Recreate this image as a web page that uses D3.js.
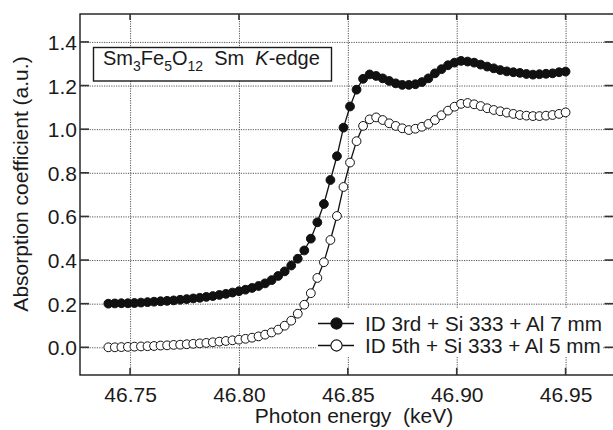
<!DOCTYPE html>
<html>
<head>
<meta charset="utf-8">
<script src="https://cdn.jsdelivr.net/npm/d3@7"></script>
<style>
  html, body { margin: 0; padding: 0; background: #fff; }
  svg { display: block; }
  text { font-family: "Liberation Sans", Arial, Helvetica, sans-serif; fill: #1a1a1a; }
</style>
</head>
<body>
<svg id="chart" width="613" height="430"></svg>
<script>
// ---- data ----
const energy = [
  46.740, 46.743, 46.746, 46.749, 46.752, 46.755, 46.758, 46.761, 46.764, 46.767,
  46.770, 46.773, 46.776, 46.779, 46.782, 46.785, 46.788, 46.791, 46.794, 46.797,
  46.800, 46.803, 46.806, 46.809, 46.812, 46.815, 46.818, 46.821, 46.824, 46.827,
  46.830, 46.833, 46.836, 46.839, 46.842, 46.845, 46.848, 46.851, 46.854, 46.857,
  46.860, 46.863, 46.866, 46.869, 46.872, 46.875, 46.878, 46.881, 46.884, 46.887,
  46.890, 46.893, 46.896, 46.899, 46.902, 46.905, 46.908, 46.911, 46.914, 46.917,
  46.920, 46.923, 46.926, 46.929, 46.932, 46.935, 46.938, 46.941, 46.944, 46.947,
  46.950
];
const seriesId3rd = [
  0.200, 0.201, 0.202, 0.202, 0.203, 0.205, 0.207, 0.209, 0.211, 0.213,
  0.215, 0.218, 0.221, 0.224, 0.227, 0.231, 0.235, 0.240, 0.245, 0.251,
  0.257, 0.264, 0.272, 0.281, 0.293, 0.308, 0.327, 0.348, 0.375, 0.406,
  0.444, 0.498, 0.573, 0.657, 0.767, 0.876, 1.007, 1.104, 1.181, 1.231,
  1.251, 1.244, 1.233, 1.221, 1.210, 1.203, 1.203, 1.206, 1.216, 1.233,
  1.256, 1.275, 1.293, 1.305, 1.313, 1.310, 1.305, 1.296, 1.287, 1.279,
  1.271, 1.265, 1.261, 1.258, 1.253, 1.250, 1.252, 1.254, 1.256, 1.261,
  1.264
];
const seriesId5th = [
  0.000, 0.000, 0.001, 0.002, 0.003, 0.004, 0.005, 0.006, 0.008, 0.009,
  0.011, 0.012, 0.014, 0.016, 0.018, 0.020, 0.023, 0.026, 0.029, 0.032,
  0.035, 0.039, 0.044, 0.050, 0.058, 0.068, 0.081, 0.099, 0.122, 0.154,
  0.195, 0.248, 0.318, 0.390, 0.492, 0.602, 0.735, 0.847, 0.945, 1.015,
  1.045, 1.054, 1.042, 1.027, 1.015, 1.004, 0.996, 1.002, 1.011, 1.024,
  1.042, 1.064, 1.085, 1.103, 1.116, 1.120, 1.114, 1.106, 1.096, 1.088,
  1.082, 1.076, 1.070, 1.065, 1.062, 1.060, 1.060, 1.062, 1.065, 1.070,
  1.077
];
const seriesNames = ["ID 3rd + Si 333 + Al 7 mm", "ID 5th + Si 333 + Al 5 mm"];
const xTicks = [46.75, 46.80, 46.85, 46.90, 46.95];
const yTicks = [0.0, 0.2, 0.4, 0.6, 0.8, 1.0, 1.2, 1.4];
const xTitle = "Photon energy  (keV)";
const yTitle = "Absorption coefficient (a.u.)";

// ---- layout ----
const L = 80, R = 613.5, T = 14, B = 375;
const svg = d3.select("#chart");
const x = d3.scaleLinear().domain([46.727, 46.972]).range([L, R]);
const y = d3.scaleLinear().domain([-0.127, 1.528]).range([B, T]);

// grid
const grid = svg.append("g");
grid.append("g").attr("transform", `translate(0,${B})`)
  .call(d3.axisBottom(x).tickValues(xTicks).tickSize(-(B - T)).tickFormat(""))
  .call(g => g.select(".domain").remove());
grid.append("g").attr("transform", `translate(${L},0)`)
  .call(d3.axisLeft(y).tickValues(yTicks).tickSize(-(R - L)).tickFormat(""))
  .call(g => g.select(".domain").remove());
grid.selectAll("line").attr("stroke", "#555").attr("stroke-width", 1).attr("stroke-dasharray", "1.2,1.2");

// inset title box
const box = svg.append("g");
box.append("rect").attr("x", 93.5).attr("y", 47.5).attr("width", 238).attr("height", 33.5)
  .attr("fill", "#fff").attr("stroke", "#1a1a1a").attr("stroke-width", 1.4);
const bt = box.append("text").attr("x", 103).attr("y", 65).style("font-size", "20px").style("white-space", "pre");
bt.append("tspan").text("Sm");
bt.append("tspan").attr("dy", 6).style("font-size", "14px").text("3");
bt.append("tspan").attr("dy", -6).text("Fe");
bt.append("tspan").attr("dy", 6).style("font-size", "14px").text("5");
bt.append("tspan").attr("dy", -6).text("O");
bt.append("tspan").attr("dy", 6).style("font-size", "14px").text("12");
bt.append("tspan").attr("dy", -6).text("  Sm  ");
bt.append("tspan").style("font-style", "italic").text("K");
bt.append("tspan").text("-edge");

// legend background
svg.append("rect").attr("x", 316).attr("y", 309).attr("width", 286).attr("height", 48).attr("fill", "#fff");

// series
const series = [
  { vals: seriesId3rd, fill: "#111" },
  { vals: seriesId5th, fill: "#fff" }
];
const line = d3.line().x((d, i) => x(energy[i])).y(d => y(d));
series.forEach(s => {
  svg.append("path").datum(s.vals).attr("d", line)
    .attr("fill", "none").attr("stroke", "#111").attr("stroke-width", 1.3);
});
series.forEach(s => {
  svg.append("g").selectAll("circle").data(s.vals).join("circle")
    .attr("cx", (d, i) => x(energy[i])).attr("cy", d => y(d)).attr("r", 4.4)
    .attr("fill", s.fill).attr("stroke", "#111").attr("stroke-width", 1);
});

// legend
const lg = svg.append("g");
seriesNames.forEach((name, i) => {
  const cy = 323.5 + i * 22;
  lg.append("line").attr("x1", 318).attr("x2", 354).attr("y1", cy).attr("y2", cy)
    .attr("stroke", "#111").attr("stroke-width", 1.3);
  lg.append("circle").attr("cx", 336.5).attr("cy", cy).attr("r", 5.6)
    .attr("fill", series[i].fill).attr("stroke", "#111").attr("stroke-width", 1.1);
  lg.append("text").attr("x", 365).attr("y", cy + 7.3).style("font-size", "20.7px").text(name);
});

// frame (right side sits just beyond the visible area)
svg.append("rect").attr("x", L).attr("y", T).attr("width", R + 1.5 - L).attr("height", B - T)
  .attr("fill", "none").attr("stroke", "#1a1a1a").attr("stroke-width", 1.4);

// inward ticks
const tk = svg.append("g").attr("stroke", "#333").attr("stroke-width", 1.6);
tk.selectAll(".tb").data(xTicks).join("line")
  .attr("x1", d => x(d)).attr("x2", d => x(d)).attr("y1", B).attr("y2", B - 7);
tk.selectAll(".tt").data(xTicks).join("line").attr("class", "tt")
  .attr("x1", d => x(d)).attr("x2", d => x(d)).attr("y1", T).attr("y2", T + 6);
tk.selectAll(".tl").data(yTicks).join("line").attr("class", "tl")
  .attr("x1", L).attr("x2", L + 9).attr("y1", d => y(d)).attr("y2", d => y(d));
tk.selectAll(".tr").data(yTicks).join("line").attr("class", "tr")
  .attr("x1", R - 9).attr("x2", R).attr("y1", d => y(d)).attr("y2", d => y(d));

// tick labels via axes
svg.append("g").attr("transform", `translate(0,${B})`)
  .call(d3.axisBottom(x).tickValues(xTicks).tickSize(0).tickPadding(0).tickFormat(d3.format(".2f")))
  .call(g => g.select(".domain").remove())
  .call(g => g.selectAll("text").attr("y", 26.7).attr("dy", null)
    .style("font-size", "21px").style("font-family", "Liberation Sans, Arial, sans-serif").attr("fill", "#1a1a1a"));
svg.append("g").attr("transform", `translate(${L},0)`)
  .call(d3.axisLeft(y).tickValues(yTicks).tickSize(0).tickPadding(0).tickFormat(d3.format(".1f")))
  .call(g => g.select(".domain").remove())
  .call(g => g.selectAll("text").attr("x", -3).attr("dy", "0.36em")
    .style("font-size", "21px").style("font-family", "Liberation Sans, Arial, sans-serif").attr("fill", "#1a1a1a"));

// axis titles
svg.append("text").attr("x", 354).attr("y", 423).attr("text-anchor", "middle")
  .style("font-size", "21px").style("white-space", "pre").text(xTitle);
svg.append("text").attr("transform", "translate(28,184) rotate(-90)").attr("text-anchor", "middle")
  .style("font-size", "21px").text(yTitle);
</script>
</body>
</html>
